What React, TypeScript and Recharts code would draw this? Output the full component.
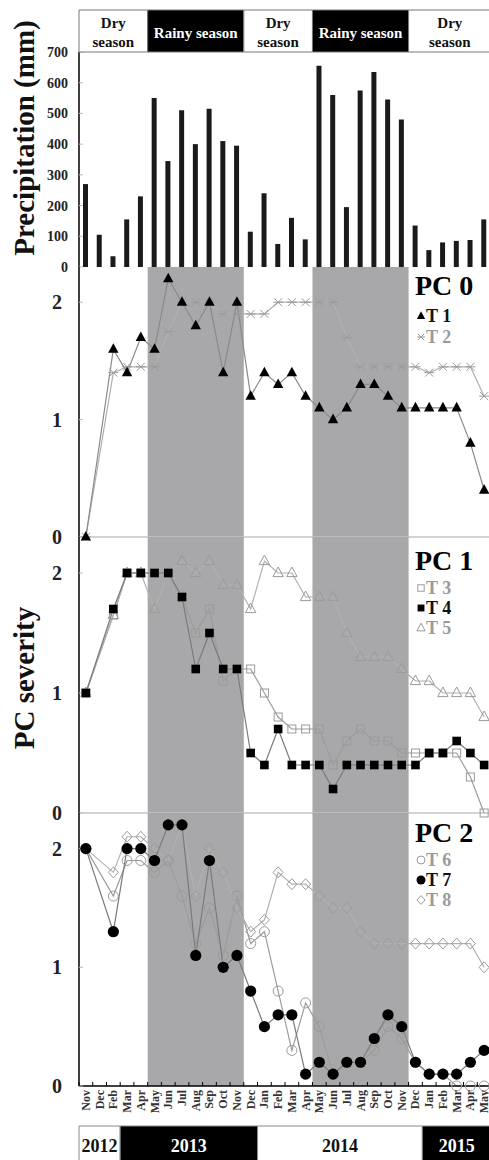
import React from 'react';
import { BarChart, Bar, LineChart, Line, XAxis, YAxis, ReferenceArea, ReferenceLine } from 'recharts';

const FONT = '"Liberation Serif", "Times New Roman", Times, serif';

// ---------- data ----------
const categories = [
  'Nov 2012', 'Dec 2012', 'Feb 2013', 'Mar 2013', 'Apr 2013', 'May 2013', 'Jun 2013', 'Jul 2013',
  'Aug 2013', 'Sep 2013', 'Oct 2013', 'Nov 2013', 'Dec 2013', 'Jan 2014', 'Feb 2014', 'Mar 2014',
  'Apr 2014', 'May 2014', 'Jun 2014', 'Jul 2014', 'Aug 2014', 'Sep 2014', 'Oct 2014', 'Nov 2014',
  'Dec 2014', 'Jan 2015', 'Feb 2015', 'Mar 2015', 'Apr 2015', 'May 2015',
];
const monthLabels = [
  'Nov', 'Dec', 'Feb', 'Mar', 'Apr', 'May', 'Jun', 'Jul', 'Aug', 'Sep', 'Oct', 'Nov', 'Dec', 'Jan', 'Feb',
  'Mar', 'Apr', 'May', 'Jun', 'Jul', 'Aug', 'Sep', 'Oct', 'Nov', 'Dec', 'Jan', 'Feb', 'Mar', 'Apr', 'May',
];
const precipitation = [
  270, 105, 35, 155, 230, 550, 345, 510, 400, 515, 410, 395, 115, 240, 75,
  160, 90, 655, 560, 195, 575, 635, 545, 480, 135, 55, 80, 85, 88, 155,
];
const pc0T1 = [0, null, 1.6, 1.4, 1.7, 1.6, 2.2, 2.0, 1.8, 2.0, 1.4, 2.0, 1.2, 1.4, 1.3, 1.4, 1.2, 1.1, 1.0, 1.1, 1.3, 1.3, 1.2, 1.1, 1.1, 1.1, 1.1, 1.1, 0.8, 0.4];
const pc0T2 = [0, null, 1.4, 1.45, 1.45, 1.45, 1.75, 2.0, 2.0, 2.0, 1.9, 1.9, 1.9, 1.9, 2.0, 2.0, 2.0, 2.0, 2.0, 1.7, 1.45, 1.45, 1.45, 1.45, 1.45, 1.4, 1.45, 1.45, 1.45, 1.2];
const pc1T3 = [1.0, null, 1.65, 2.0, 2.0, 2.0, 2.0, 1.8, 1.5, 1.7, 1.1, 1.2, 1.2, 1.0, 0.8, 0.7, 0.7, 0.7, 0.4, 0.6, 0.7, 0.6, 0.6, 0.5, 0.5, 0.5, 0.5, 0.5, 0.3, 0.0];
const pc1T4 = [1.0, null, 1.7, 2.0, 2.0, 2.0, 2.0, 1.8, 1.2, 1.5, 1.2, 1.2, 0.5, 0.4, 0.7, 0.4, 0.4, 0.4, 0.2, 0.4, 0.4, 0.4, 0.4, 0.4, 0.4, 0.5, 0.5, 0.6, 0.5, 0.4];
const pc1T5 = [1.0, null, 1.65, 2.0, 2.0, 1.7, 2.0, 2.1, 2.0, 2.1, 1.9, 1.9, 1.7, 2.1, 2.0, 2.0, 1.8, 1.8, 1.8, 1.5, 1.3, 1.3, 1.3, 1.2, 1.1, 1.1, 1.0, 1.0, 1.0, 0.8];
const pc2T6 = [2.0, null, 1.6, 1.9, 1.9, 1.8, 1.9, 1.6, 1.2, 1.5, 1.1, 1.6, 1.2, 1.3, 0.8, 0.3, 0.7, 0.5, 0.1, 0.2, 0.2, 0.3, 0.5, 0.4, 0.2, 0.1, 0.1, 0.0, 0.0, 0.0];
const pc2T7 = [2.0, null, 1.3, 2.0, 2.0, 1.9, 2.2, 2.2, 1.1, 1.9, 1.0, 1.1, 0.8, 0.5, 0.6, 0.6, 0.1, 0.2, 0.1, 0.2, 0.2, 0.4, 0.6, 0.5, 0.2, 0.1, 0.1, 0.1, 0.2, 0.3];
const pc2T8 = [2.0, null, 1.8, 2.1, 2.1, 2.0, 1.9, 2.2, 1.6, 2.0, 1.8, 1.5, 1.3, 1.4, 1.8, 1.7, 1.7, 1.6, 1.5, 1.5, 1.3, 1.2, 1.2, 1.2, 1.2, 1.2, 1.2, 1.2, 1.2, 1.0];

const precipTicks = [0, 100, 200, 300, 400, 500, 600, 700];
const severityTicks = [0, 1, 2];

const seasonLabels = ['Dry season', 'Rainy season', 'Dry season', 'Rainy season', 'Dry season'];
const seasonFirst = ['Nov 2012', 'May 2013', 'Dec 2013', 'May 2014', 'Dec 2014'];
const seasonLast = ['Apr 2013', 'Nov 2013', 'Apr 2014', 'Nov 2014', 'May 2015'];

const yearLabels = ['2012', '2013', '2014', '2015'];
const yearFirst = ['Nov 2012', 'Mar 2013', 'Jan 2014', 'Jan 2015'];
const yearLast = ['Feb 2013', 'Dec 2013', 'Dec 2014', 'May 2015'];

// ---------- derived table ----------
const data = categories.map((c, i) => ({
  i,
  cat: c,
  month: monthLabels[i],
  precip: precipitation[i],
  t1: pc0T1[i], t2: pc0T2[i],
  t3: pc1T3[i], t4: pc1T4[i], t5: pc1T5[i],
  t6: pc2T6[i], t7: pc2T7[i], t8: pc2T8[i],
}));
const idx = (c: string) => categories.indexOf(c);
const tickIdx = categories.map((_, i) => i);
const seasons = seasonLabels.map((l, k) => ({ label: l, a: idx(seasonFirst[k]) - 0.5, b: idx(seasonLast[k]) + 0.5, rainy: l.startsWith('Rainy') }));
const rainy = seasons.filter((s) => s.rainy);
const years = yearLabels.map((l, k) => ({ label: l, a: idx(yearFirst[k]) - 0.5, b: idx(yearLast[k]) + 0.5, dark: k % 2 === 1 }));

// ---------- layout ----------
const CHART_W = 491;
const AXIS_W = 79;
const PLOT_W = CHART_W - AXIS_W;
const STEP = PLOT_W / categories.length;
const X_DOMAIN: [number, number] = [-0.5, categories.length - 0.5];
const SHADE = '#a8a8aa';
const GREY = '#9a9a9a';

// ---------- markers ----------
type Kind = 'triFill' | 'star' | 'sqOpen' | 'sqFill' | 'triOpen' | 'cirOpen' | 'cirFill' | 'diaOpen';
function Marker({ kind, cx, cy, s = 1 }: { kind: Kind; cx: number; cy: number; s?: number }) {
  switch (kind) {
    case 'triFill':
      return <polygon points={`${cx},${cy - 6 * s} ${cx - 5.2 * s},${cy + 3.6 * s} ${cx + 5.2 * s},${cy + 3.6 * s}`} fill="#000" />;
    case 'triOpen':
      return <polygon points={`${cx},${cy - 6 * s} ${cx - 5.2 * s},${cy + 3.6 * s} ${cx + 5.2 * s},${cy + 3.6 * s}`} fill="none" stroke={GREY} strokeWidth={1} />;
    case 'star':
      return (
        <g stroke={GREY} strokeWidth={1}>
          <line x1={cx - 4 * s} y1={cy - 4 * s} x2={cx + 4 * s} y2={cy + 4 * s} />
          <line x1={cx - 4 * s} y1={cy + 4 * s} x2={cx + 4 * s} y2={cy - 4 * s} />
          <line x1={cx - 5 * s} y1={cy} x2={cx + 5 * s} y2={cy} />
        </g>
      );
    case 'sqOpen':
      return <rect x={cx - 4 * s} y={cy - 4 * s} width={8 * s} height={8 * s} fill="none" stroke={GREY} strokeWidth={1} />;
    case 'sqFill':
      return <rect x={cx - 4.3 * s} y={cy - 4.3 * s} width={8.6 * s} height={8.6 * s} fill="#000" />;
    case 'cirOpen':
      return <circle cx={cx} cy={cy} r={5 * s} fill="none" stroke={GREY} strokeWidth={1} />;
    case 'cirFill':
      return <circle cx={cx} cy={cy} r={5.6 * s} fill="#000" />;
    case 'diaOpen':
      return <polygon points={`${cx},${cy - 5.5 * s} ${cx + 5 * s},${cy} ${cx},${cy + 5.5 * s} ${cx - 5 * s},${cy}`} fill="none" stroke={GREY} strokeWidth={1} />;
  }
  return null;
}
const dotOf = (kind: Kind) => (p: any) => {
  const ok = typeof p.cx === 'number' && typeof p.cy === 'number' && !isNaN(p.cy) && p.value != null;
  if (!ok) return <g key={`d-${p.index}`} />;
  return <Marker key={`d-${p.index}`} kind={kind} cx={p.cx} cy={p.cy} />;
};

// ---------- ticks ----------
const BoundaryTick = (len: number, withLabel: boolean) => (p: any) => {
  const { x, y, payload } = p;
  const xl = x - STEP / 2;
  const label = monthLabels[payload.value];
  return (
    <g>
      <line x1={xl} x2={xl} y1={y} y2={y - len} stroke="#000" strokeWidth={1} />
      {withLabel && (
        <text
          x={x}
          y={y + 4}
          transform={`rotate(-90, ${x}, ${y + 4})`}
          textAnchor="end"
          dominantBaseline="central"
          fontFamily={FONT}
          fontWeight="bold"
          fontSize={12}
          fill="#333"
        >
          {label}
        </text>
      )}
    </g>
  );
};

const yTickStyle = (size: number) => ({ fontFamily: FONT, fontSize: size, fontWeight: 'bold', fill: '#222' });

// ---------- band labels ----------
const seasonLabelFn = (s: { label: string; rainy: boolean }) => (p: any) => {
  const vb = p.viewBox || {};
  const cx = vb.x + vb.width / 2;
  const y0 = vb.y;
  const common = { fontFamily: FONT, fontWeight: 'bold' as const, fontSize: 15, textAnchor: 'middle' as const };
  if (s.rainy) {
    return <text x={cx} y={y0 + 28} fill="#fff" {...common}>{s.label}</text>;
  }
  const [l1, l2] = s.label.split(' ');
  return (
    <text x={cx} fill="#111" {...common}>
      <tspan x={cx} y={y0 + 18}>{l1}</tspan>
      <tspan x={cx} y={y0 + 36.5}>{l2}</tspan>
    </text>
  );
};
const yearLabelFn = (yb: { label: string; dark: boolean }) => (p: any) => {
  const vb = p.viewBox || {};
  return (
    <text x={vb.x + vb.width / 2} y={vb.y + 26} textAnchor="middle" fontFamily={FONT} fontWeight="bold" fontSize={18} fill={yb.dark ? '#fff' : '#111'}>
      {yb.label}
    </text>
  );
};

const abs = (top: number): React.CSSProperties => ({ position: 'absolute', left: 0, top });

function BandChart({ height, bands, labelFn, stroke }: {
  height: number;
  bands: { a: number; b: number; dark: boolean; label: string; rainy?: boolean }[];
  labelFn: (b: any) => (p: any) => React.ReactNode;
  stroke: string;
}) {
  return (
    <LineChart width={CHART_W} height={height} data={data} margin={{ top: 1, right: 0, bottom: 1, left: AXIS_W }}>
      <XAxis type="number" dataKey="i" domain={X_DOMAIN} allowDataOverflow hide />
      <YAxis hide type="number" domain={[0, 1]} allowDataOverflow />
      <Line dataKey="i" stroke="none" dot={false} activeDot={false} isAnimationActive={false} />
      {bands.map((b, k) => (
        <ReferenceArea
          key={`b${k}`}
          x1={b.a}
          x2={b.b}
          y1={0}
          y2={1}
          ifOverflow="visible"
          fill={b.dark ? '#000' : '#fff'}
          fillOpacity={1}
          stroke={stroke}
          strokeWidth={1}
          label={labelFn(b)}
        />
      ))}
    </LineChart>
  );
}

function PcPanel({ height, series, bottomLine, showX }: {
  height: number;
  series: { key: string; kind: Kind; stroke: string }[];
  bottomLine: boolean;
  showX: boolean;
}) {
  return (
    <LineChart width={CHART_W} height={height} data={data} margin={{ top: 0, right: 0, bottom: 0, left: 0 }}>
      {showX ? (
        <XAxis
          type="number"
          dataKey="i"
          domain={X_DOMAIN}
          ticks={tickIdx}
          interval={0}
          height={40}
          axisLine={{ stroke: '#000', strokeWidth: 1.5 }}
          tickLine={false}
          tickSize={0}
          tickMargin={0}
          tick={BoundaryTick(4, true)}
        />
      ) : (
        <XAxis type="number" dataKey="i" domain={X_DOMAIN} hide />
      )}
      <YAxis
        width={AXIS_W}
        type="number"
        domain={[0, 2.3]}
        ticks={severityTicks}
        interval={0}
        axisLine={{ stroke: '#000', strokeWidth: 1.5 }}
        tickLine={{ stroke: '#bbb' }}
        tickSize={-4}
        tickMargin={21}
        tick={yTickStyle(20)}
      />
      {rainy.map((s, k) => (
        <ReferenceArea key={`r${k}`} x1={s.a} x2={s.b} fill={SHADE} fillOpacity={1} stroke="none" />
      ))}
      {bottomLine && <ReferenceLine y={0} stroke="#c4c4c4" strokeWidth={1.5} />}
      {series.map((s) => (
        <Line
          key={s.key}
          dataKey={s.key}
          type="linear"
          stroke={s.stroke}
          strokeWidth={1.2}
          connectNulls
          dot={dotOf(s.kind)}
          activeDot={false}
          isAnimationActive={false}
        />
      ))}
    </LineChart>
  );
}

function Legends() {
  const title = (x: number, y: number, t: string) => (
    <text x={x} y={y} fontFamily={FONT} fontWeight="bold" fontSize={28} fill="#000">{t}</text>
  );
  const item = (y: number, kind: Kind, t: string, color: string) => (
    <g key={t}>
      <Marker kind={kind} cx={421} cy={y - 6} s={0.8} />
      <text x={426} y={y} fontFamily={FONT} fontWeight="bold" fontSize={18} fill={color}>{t}</text>
    </g>
  );
  return (
    <svg width={489} height={1160} style={{ position: 'absolute', left: 0, top: 0, pointerEvents: 'none' }}>
      <text transform="translate(24,138) rotate(-90)" textAnchor="middle" dominantBaseline="central" fontFamily={FONT} fontWeight="bold" fontSize={29} fill="#111">
        Precipitation (mm)
      </text>
      <text transform="translate(24,678) rotate(-90)" textAnchor="middle" dominantBaseline="central" fontFamily={FONT} fontWeight="bold" fontSize={29} fill="#111">
        PC severity
      </text>
      {title(415, 295, 'PC 0')}
      {item(322, 'triFill', 'T 1', '#111')}
      {item(343, 'star', 'T 2', GREY)}
      {title(415, 570, 'PC 1')}
      {item(594, 'sqOpen', 'T 3', GREY)}
      {item(614, 'sqFill', 'T 4', '#111')}
      {item(634, 'triOpen', 'T 5', GREY)}
      {title(415, 842, 'PC 2')}
      {item(866, 'cirOpen', 'T 6', GREY)}
      {item(886, 'cirFill', 'T 7', '#111')}
      {item(906, 'diaOpen', 'T 8', GREY)}
    </svg>
  );
}

export default function App() {
  return (
    <div style={{ position: 'absolute', left: 0, top: 0, width: 489, height: 1160, overflow: 'hidden', background: '#fff' }}>
      <style>{`.recharts-surface{overflow:visible}`}</style>
      {/* precipitation */}
      <div style={abs(10)}>
        <BarChart width={CHART_W} height={257} data={data} margin={{ top: 42, right: 0, bottom: 0, left: 0 }}>
          <XAxis
            type="number"
            dataKey="i"
            domain={X_DOMAIN}
            ticks={tickIdx}
            interval={0}
            height={0}
            axisLine={{ stroke: '#111', strokeWidth: 1.2 }}
            tickLine={false}
            tickSize={0}
            tickMargin={0}
            tick={BoundaryTick(6, false)}
          />
          <YAxis
            width={AXIS_W}
            type="number"
            domain={[0, 700]}
            ticks={precipTicks}
            interval={0}
            axisLine={{ stroke: '#000', strokeWidth: 1.5 }}
            tickLine={{ stroke: '#bbb' }}
            tickSize={-4}
            tickMargin={15}
            tick={yTickStyle(14)}
          />
          <Bar dataKey="precip" barSize={5} fill="#1a1a1a" isAnimationActive={false} />
        </BarChart>
      </div>

      {/* season band */}
      <div style={abs(9)}>
        <BandChart
          height={44}
          stroke="#777"
          bands={seasons.map((s) => ({ ...s, dark: s.rainy }))}
          labelFn={seasonLabelFn}
        />
      </div>

      {/* PC 0 */}
      <div style={abs(267)}>
        <PcPanel
          height={270}
          bottomLine
          showX={false}
          series={[
            { key: 't2', kind: 'star', stroke: '#b0b0b0' },
            { key: 't1', kind: 'triFill', stroke: '#8a8a8a' },
          ]}
        />
      </div>

      {/* PC 1 */}
      <div style={abs(537)}>
        <PcPanel
          height={276}
          bottomLine
          showX={false}
          series={[
            { key: 't3', kind: 'sqOpen', stroke: '#9c9c9c' },
            { key: 't5', kind: 'triOpen', stroke: '#b0b0b0' },
            { key: 't4', kind: 'sqFill', stroke: '#7a7a7a' },
          ]}
        />
      </div>

      {/* PC 2 */}
      <div style={abs(813)}>
        <PcPanel
          height={313}
          bottomLine={false}
          showX
          series={[
            { key: 't6', kind: 'cirOpen', stroke: '#9c9c9c' },
            { key: 't8', kind: 'diaOpen', stroke: '#b0b0b0' },
            { key: 't7', kind: 'cirFill', stroke: '#7a7a7a' },
          ]}
        />
      </div>

      {/* year band */}
      <div style={abs(1125)}>
        <BandChart
          height={37}
          stroke="#888"
          bands={years}
          labelFn={yearLabelFn}
        />
      </div>

      <Legends />
    </div>
  );
}
